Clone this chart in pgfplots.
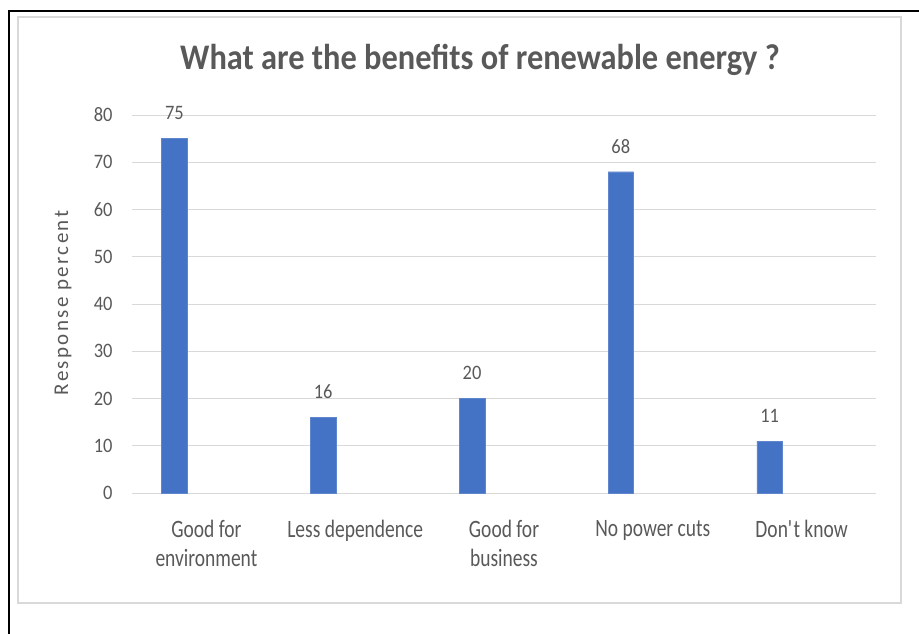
\documentclass[border=0pt]{standalone}
\usepackage{fontspec}
\setmainfont{Carlito}
\usepackage{pgfplots}
\pgfplotsset{compat=1.18}
\definecolor{barblue}{HTML}{4472C4}
\definecolor{txt}{HTML}{595959}
\definecolor{gridc}{HTML}{D9D9D9}
\newfontfamily\spaced[LetterSpace=11]{Carlito}
\newfontfamily\condx[FakeStretch=0.78]{Carlito}
\newfontfamily\condt[FakeStretch=0.9]{Carlito}
\newfontfamily\condn[FakeStretch=0.9]{Carlito}
\begin{document}
\begin{tikzpicture}[x=1pt,y=1pt]
\useasboundingbox (0,0) rectangle (919,-634);
\draw[black, line width=1.2pt] (9,-634) -- (9,-11) -- (919,-11);
\draw[gridc, line width=1.5pt] (18,-603) rectangle (901,-17);
\node[anchor=base, font=\fontsize{36}{40}\condt\bfseries, text=txt, inner sep=0pt] at (480,-70) {What are the benefits of renewable energy ?};
\node[rotate=90, font=\fontsize{21}{24}\spaced, text=txt] at (63,-303) {Response percent};
\begin{axis}[
  at={(132pt,-493pt)}, anchor=south west,
  scale only axis, width=744pt, height=378pt,
  xmin=-0.5, xmax=4.5, ymin=0, ymax=80,
  ytick={0,10,...,80},
  xtick={0,...,4},
  xticklabels={{Good for\\environment},{Less dependence},{Good for\\business},{No power cuts},{Don\textquotesingle t know}},
  xticklabel style={align=center, font=\fontsize{25}{28.7}\condx, text=txt, inner sep=0pt, yshift=-27pt},
  yticklabel style={font=\fontsize{20.5}{24}\condn, text=txt, xshift=-16pt},
  /pgf/number format/assume math mode=true,
  major tick length=0pt,
  axis line style={draw=none},
  ymajorgrids, grid style={gridc, line width=1pt},
  ybar, bar width=0.172, bar shift=0pt,
  clip=false,
  nodes near coords,
  every node near coord/.append style={font=\fontsize{20.5}{24}\condn, text=txt, yshift=15pt},
]
\addplot[fill=barblue, draw=barblue!85!white] coordinates {(-0.215,75) (0.785,16) (1.785,20) (2.785,68) (3.785,11)};
\end{axis}
\end{tikzpicture}
\end{document}
